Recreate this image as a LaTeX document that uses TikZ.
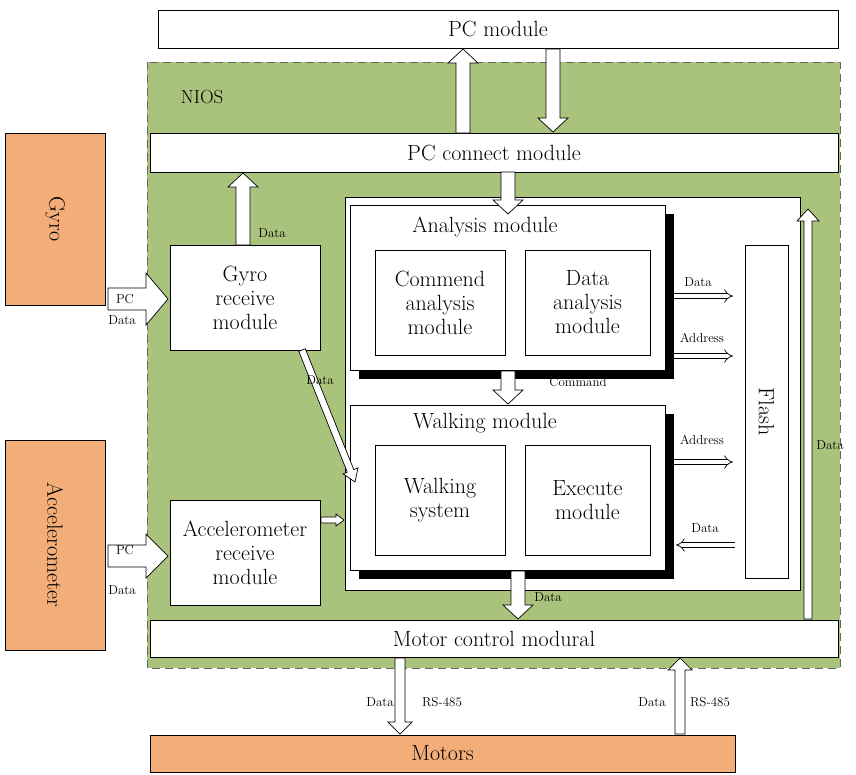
\documentclass[tikz,border=0pt]{standalone}
\usepackage{fontspec}
\setmainfont{Latin Modern Roman}
\usetikzlibrary{calc,fit,shadows,arrows.meta}
\definecolor{niosgreen}{HTML}{A9C27C}
\definecolor{orng}{HTML}{F2AD78}
\newcommand\barrow[5]{% start, end, halfwidth, headhalf, headlen
  \draw[fill=white,line width=0.7pt]
   ($#1!#3!90:#2$) -- ($($#2!#5!#1$)!#3!90:#2$) -- ($($#2!#5!#1$)!#4!90:#2$) -- #2
   -- ($($#2!#5!#1$)!#4!-90:#2$) -- ($($#2!#5!#1$)!#3!-90:#2$) -- ($#1!#3!-90:#2$) -- cycle;}
\tikzset{
 box/.style={draw,fill=white,inner sep=0pt,line width=0.8pt,align=center},
 txt/.style={align=center,inner sep=0pt,font=\fontsize{22}{24}\selectfont},
 sbox/.style={box,drop shadow={shadow xshift=9pt,shadow yshift=-9pt,opacity=1,fill=black}},
 obox/.style={draw,fill=orng,inner sep=0pt,line width=0.6pt},
 lab/.style={font=\fontsize{13}{15}\selectfont,inner sep=1pt},
 tarrow/.style={double,double distance=4pt,line width=0.7pt,-{Implies[length=6pt]}},
}
\begin{document}
\begin{tikzpicture}[x=1pt,y=-1pt]
\useasboundingbox (0,0) rectangle (856,774);
\fill[niosgreen] (147,62) rectangle (840,668);
\draw[line width=0.8pt,dash pattern=on 8pt off 5pt,black!60] (147,62) rectangle (840,668);
\node[font=\fontsize{19}{21}\selectfont] (nios) at (202,97) {NIOS};
\node[box,fit={(158,10)(838,48)}] (pc) {};
\node[txt] at (pc.center) {PC module};
\node[box,fit={(150,133)(838,172)}] (pcc) {};
\node[txt] at (pcc.center) {PC connect module};
\node[obox,fit={(5,133)(105,305)}] (gyro) {};
\node[txt,rotate=-90] at (gyro.center) {Gyro};
\node[obox,fit={(5,440)(105,650)}] (acc) {};
\node[txt,rotate=-90] at (acc.center) {Accelerometer};
\node[box,fit={(170,245)(320,350)}] (gr) {};
\node[txt] at (gr.center) {Gyro\\receive\\module};
\node[box,fit={(170,500)(320,605)}] (ar) {};
\node[txt] at (ar.center) {Accelerometer\\receive\\module};
\node[box,fit={(345,197)(800,590)}] (cont) {};
\node[sbox,fit={(350,205)(665,370)}] (an) {};
\node[txt] at (485,227) {Analysis module};
\node[box,fit={(375,250)(505,355)}] (ca) {};
\node[txt] at (ca.center) {Commend\\analysis\\module};
\node[box,fit={(525,250)(650,355)}] (da) {};
\node[txt] at (da.center) {Data\\analysis\\module};
\node[sbox,fit={(350,405)(665,570)}] (wm) {};
\node[txt] at (485,423) {Walking module};
\node[box,fit={(375,445)(505,555)}] (ws) {};
\node[txt] at (ws.center) {Walking\\system};
\node[box,fit={(525,445)(650,555)}] (ex) {};
\node[txt] at (ex.center) {Execute\\module};
\node[box,fit={(745,245)(788,578)}] (fl) {};
\node[txt,rotate=-90] at (fl.center) {Flash};
\node[box,fit={(150,620)(838,657)}] (mc) {};
\node[txt] at (mc.center) {Motor control modural};
\node[obox,fit={(150,735)(735,772)}] (mo) {};
\node[txt] at (mo.center) {Motors};
% fat arrows
\barrow{(463,133)}{(463,49)}{7pt}{15pt}{14pt}
\barrow{(553,49)}{(553,132)}{7pt}{15pt}{14pt}
\barrow{(243,245)}{(243,173)}{7pt}{15pt}{14pt}
\node[lab] at (272,233) {Data};
\barrow{(108,299)}{(168,299)}{11pt}{26pt}{22pt}
\node[lab] at (125,299) {PC};
\node[lab] at (122,320) {Data};
\barrow{(108,556)}{(168,556)}{11pt}{22pt}{22pt}
\node[lab] at (125,550) {PC};
\node[lab] at (122,590) {Data};
\barrow{(508,172)}{(508,214)}{7pt}{15pt}{14pt}
\barrow{(508,371)}{(508,404)}{7pt}{15pt}{14pt}
\node[lab] at (578,382) {Command};
\barrow{(518,571)}{(518,619)}{7pt}{15pt}{14pt}
\node[lab] at (548,597) {Data};
\barrow{(302,350)}{(355,482)}{3.5pt}{8pt}{12pt}
\node[lab] at (320,380) {Data};
\barrow{(321,520)}{(344,520)}{3pt}{6pt}{8pt}
\barrow{(808,619)}{(808,209)}{4pt}{11pt}{12pt}
\node[lab] at (830,445) {Data};
\barrow{(400,658)}{(400,734)}{5pt}{12pt}{12pt}
\node[lab] at (380,702) {Data};
\node[lab] at (442,702) {RS-485};
\barrow{(680,734)}{(680,658)}{5pt}{12pt}{12pt}
\node[lab] at (652,702) {Data};
\node[lab] at (710,702) {RS-485};
% thin arrows
\draw[tarrow] (674,296) -- (733,296);
\node[lab] at (698,282) {Data};
\draw[tarrow] (674,356) -- (733,356);
\node[lab] at (702,338) {Address};
\draw[tarrow] (674,462) -- (733,462);
\node[lab] at (702,440) {Address};
\draw[tarrow] (735,545) -- (676,545);
\node[lab] at (705,528) {Data};
\end{tikzpicture}
\end{document}
